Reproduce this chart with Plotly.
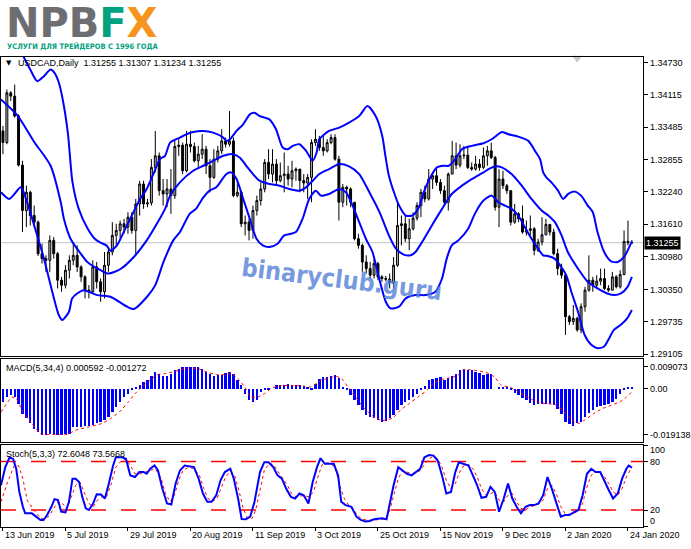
import plotly.graph_objects as go

# ---------------- data ----------------
opens = [1.33412, 1.33188, 1.34148, 1.34084, 1.33700, 1.32753, 1.31876, 1.32228, 1.31780, 1.31652,
         1.31044, 1.30948, 1.30916, 1.31300, 1.31044, 1.30532, 1.30436, 1.30724, 1.30916, 1.31012,
         1.30788, 1.30596, 1.30340, 1.30308, 1.30788, 1.30500, 1.30308, 1.30820, 1.31076, 1.31396,
         1.31492, 1.31620, 1.31556, 1.31748, 1.31492, 1.32004, 1.32388, 1.32004, 1.32023, 1.32708,
         1.32932, 1.32260, 1.32196, 1.32292, 1.32164, 1.33111, 1.33137, 1.32644, 1.33156, 1.33111,
         1.32836, 1.32964, 1.33060, 1.32740, 1.32516, 1.32868, 1.33028, 1.33220, 1.33156, 1.33220,
         1.32164, 1.32228, 1.31620, 1.31652, 1.31492, 1.31876, 1.32068, 1.32292, 1.32804, 1.32580,
         1.32772, 1.32452, 1.32548, 1.32580, 1.32484, 1.32644, 1.32676, 1.32452, 1.32407, 1.32516,
         1.33188, 1.33252, 1.33092, 1.33028, 1.33188, 1.33284, 1.32868, 1.32036, 1.32324, 1.32292,
         1.32036, 1.31332, 1.31204, 1.30884, 1.30756, 1.30628, 1.30852, 1.30596, 1.30564, 1.30551,
         1.30487, 1.30820, 1.31588, 1.31620, 1.31332, 1.31524, 1.31729, 1.31972, 1.32228, 1.32100,
         1.32484, 1.32548, 1.32420, 1.32260, 1.32036, 1.32580, 1.32932, 1.32753, 1.32932, 1.32945,
         1.32708, 1.32676, 1.32772, 1.32708, 1.32932, 1.33028, 1.32900, 1.31940, 1.32484, 1.32356,
         1.32260, 1.31652, 1.31812, 1.31716, 1.31460, 1.31492, 1.31524, 1.31108, 1.31268, 1.31409,
         1.31607, 1.31460, 1.31044, 1.30756, 1.30628, 1.29828, 1.29732, 1.29796, 1.29572, 1.30020,
         1.30340, 1.30532, 1.30436, 1.30513, 1.30564, 1.30372, 1.30340, 1.30596, 1.30404, 1.30641,
         1.31281, 1.31255]
highs = [1.33508, 1.34212, 1.34180, 1.34308, 1.33732, 1.32836, 1.32356, 1.32260, 1.31972, 1.31684,
         1.31236, 1.31012, 1.31396, 1.31364, 1.31076, 1.30596, 1.30820, 1.31012, 1.31236, 1.31204,
         1.30820, 1.30628, 1.30436, 1.30916, 1.30884, 1.30564, 1.31076, 1.31140, 1.31652, 1.31620,
         1.31684, 1.31716, 1.31844, 1.31844, 1.32100, 1.32452, 1.32452, 1.32100, 1.32868, 1.33412,
         1.32996, 1.32484, 1.32484, 1.32676, 1.33220, 1.33252, 1.33188, 1.33412, 1.33412, 1.33188,
         1.33124, 1.33348, 1.33124, 1.32868, 1.33060, 1.33124, 1.33444, 1.33284, 1.33796, 1.33284,
         1.32420, 1.32260, 1.31780, 1.31716, 1.31972, 1.32164, 1.32420, 1.32868, 1.33060, 1.33060,
         1.32868, 1.32804, 1.32996, 1.32740, 1.32836, 1.32708, 1.32676, 1.32580, 1.32580, 1.33252,
         1.33444, 1.33316, 1.33316, 1.33252, 1.33348, 1.33348, 1.32932, 1.32388, 1.32356, 1.32324,
         1.32036, 1.31428, 1.31236, 1.31012, 1.30884, 1.30948, 1.30884, 1.30628, 1.30615, 1.30660,
         1.30980, 1.32036, 1.31780, 1.31780, 1.31716, 1.31844, 1.32036, 1.32292, 1.32356, 1.32676,
         1.32580, 1.32676, 1.32484, 1.32356, 1.32612, 1.33220, 1.33188, 1.33156, 1.33124, 1.33124,
         1.32804, 1.32932, 1.32868, 1.33092, 1.33124, 1.33188, 1.32932, 1.32676, 1.32644, 1.32388,
         1.32260, 1.32004, 1.31844, 1.31972, 1.31684, 1.31780, 1.31556, 1.31332, 1.31748, 1.31716,
         1.31620, 1.31524, 1.31140, 1.30852, 1.30660, 1.29860, 1.30052, 1.29828, 1.30084, 1.30404,
         1.31012, 1.30596, 1.30628, 1.30756, 1.30756, 1.30436, 1.30692, 1.30628, 1.30724, 1.31492,
         1.31684, 1.31307]
lows = [1.32964, 1.33156, 1.33988, 1.33668, 1.32727, 1.31460, 1.31556, 1.31588, 1.31556, 1.30999,
        1.30852, 1.30692, 1.30692, 1.30948, 1.30372, 1.30308, 1.30372, 1.30564, 1.30820, 1.30692,
        1.30500, 1.30180, 1.30180, 1.30276, 1.30372, 1.30116, 1.30180, 1.30692, 1.31012, 1.31204,
        1.31332, 1.31428, 1.31428, 1.31428, 1.31012, 1.31780, 1.31908, 1.31940, 1.31972, 1.32612,
        1.32164, 1.31972, 1.31940, 1.31812, 1.32100, 1.32932, 1.32580, 1.32612, 1.32996, 1.32804,
        1.32676, 1.32868, 1.32580, 1.32228, 1.32484, 1.32804, 1.32964, 1.33092, 1.33111, 1.32132,
        1.32132, 1.31556, 1.31396, 1.31300, 1.31332, 1.31780, 1.31972, 1.32228, 1.32484, 1.32420,
        1.32356, 1.32420, 1.32228, 1.32356, 1.32324, 1.32452, 1.32228, 1.32228, 1.32100, 1.32036,
        1.33124, 1.33028, 1.32932, 1.32996, 1.33156, 1.32836, 1.31684, 1.31940, 1.31972, 1.31940,
        1.31300, 1.31140, 1.30692, 1.30660, 1.30564, 1.30564, 1.30532, 1.30500, 1.30513, 1.30372,
        1.30372, 1.30788, 1.31204, 1.31268, 1.31108, 1.31492, 1.31684, 1.31748, 1.32036, 1.32068,
        1.32292, 1.32356, 1.32196, 1.31972, 1.31876, 1.32580, 1.32676, 1.32708, 1.32868, 1.32676,
        1.32644, 1.32644, 1.32644, 1.32676, 1.32740, 1.32868, 1.31876, 1.31556, 1.32292, 1.32196,
        1.31588, 1.31620, 1.31652, 1.31428, 1.31396, 1.31396, 1.31012, 1.31076, 1.31204, 1.31396,
        1.31396, 1.31012, 1.30628, 1.30564, 1.29476, 1.29668, 1.29668, 1.29540, 1.29508, 1.29924,
        1.30308, 1.30308, 1.30372, 1.30436, 1.30340, 1.30308, 1.30340, 1.30372, 1.30372, 1.30628,
        1.31204, 1.31234]
closes = [1.33188, 1.34148, 1.34084, 1.33700, 1.32753, 1.31876, 1.32228, 1.31780, 1.31652, 1.31044,
          1.30948, 1.30916, 1.31300, 1.31044, 1.30532, 1.30436, 1.30724, 1.30916, 1.31012, 1.30788,
          1.30596, 1.30340, 1.30308, 1.30788, 1.30500, 1.30308, 1.30820, 1.31076, 1.31396, 1.31492,
          1.31620, 1.31556, 1.31748, 1.31492, 1.32004, 1.32388, 1.32004, 1.32023, 1.32708, 1.32932,
          1.32260, 1.32196, 1.32292, 1.32164, 1.33111, 1.33137, 1.32644, 1.33156, 1.33111, 1.32836,
          1.32964, 1.33060, 1.32740, 1.32516, 1.32868, 1.33028, 1.33220, 1.33156, 1.33220, 1.32164,
          1.32228, 1.31620, 1.31652, 1.31492, 1.31876, 1.32068, 1.32292, 1.32804, 1.32580, 1.32772,
          1.32452, 1.32548, 1.32580, 1.32484, 1.32644, 1.32676, 1.32452, 1.32407, 1.32516, 1.33188,
          1.33252, 1.33092, 1.33028, 1.33188, 1.33284, 1.32868, 1.32036, 1.32324, 1.32292, 1.32036,
          1.31332, 1.31204, 1.30884, 1.30756, 1.30628, 1.30852, 1.30596, 1.30564, 1.30551, 1.30487,
          1.30820, 1.31588, 1.31620, 1.31332, 1.31524, 1.31729, 1.31972, 1.32228, 1.32100, 1.32484,
          1.32548, 1.32420, 1.32260, 1.32036, 1.32580, 1.32932, 1.32753, 1.32932, 1.32945, 1.32708,
          1.32676, 1.32772, 1.32708, 1.32932, 1.33028, 1.32900, 1.31940, 1.32484, 1.32356, 1.32260,
          1.31652, 1.31812, 1.31716, 1.31460, 1.31492, 1.31524, 1.31108, 1.31268, 1.31409, 1.31607,
          1.31460, 1.31044, 1.30756, 1.30628, 1.29828, 1.29732, 1.29796, 1.29572, 1.30020, 1.30340,
          1.30532, 1.30436, 1.30513, 1.30564, 1.30372, 1.30340, 1.30596, 1.30404, 1.30641, 1.31281,
          1.31255, 1.31255]

# Bollinger bands
up_x = [0, 2, 4, 5, 7, 8.8, 10.5, 12.2, 13.2, 14.3, 15.3, 16.6, 17.8, 19.4, 21.7, 23.5, 25, 26.5, 27.5, 29.2,
        30.9, 33.4, 35.1, 36.8, 38.5, 40.2, 41.5, 42.8, 45.3, 47, 48.7, 51.3, 53.8, 56.4, 57.2, 58.1, 59.8, 61.5, 63.2, 64.4,
        65.7, 68.2, 69.9, 71.6, 72.9, 74.2, 75.9, 77.6, 79.3, 80.3, 81, 83.5, 86.1, 88.6, 91.2, 93.3, 95.4, 97.1, 97.9, 98.8,
        100.1, 101.4, 103.1, 104.8, 106.5, 107.7, 109.4, 111.1, 112.8, 114.1, 115.8, 117.5, 120, 123, 125.1, 126.8, 127.7, 129.4, 131.9, 134.5,
        136.2, 137.5, 138.3, 139.1, 140.4, 142.1, 143.4, 144.7, 146.3, 148, 149.7, 151, 152.2, 153.9, 155.7, 157.4, 159, 161]
up_y = [1.35492, 1.35268, 1.35012, 1.34884, 1.34596, 1.34372, 1.34468, 1.34596, 1.34532, 1.34346,
        1.34020, 1.33386, 1.32426, 1.31908, 1.31524, 1.31332, 1.31255, 1.31204, 1.31102, 1.31204,
        1.31460, 1.31844, 1.32100, 1.32292, 1.32580, 1.32868, 1.32932, 1.33188, 1.33284, 1.33348,
        1.33393, 1.33412, 1.33380, 1.33284, 1.33220, 1.33252, 1.33412, 1.33540, 1.33732, 1.33764,
        1.33700, 1.33636, 1.33444, 1.33092, 1.33060, 1.33124, 1.33156, 1.33028, 1.32836, 1.32996,
        1.33252, 1.33412, 1.33476, 1.33572, 1.33700, 1.33892, 1.33700, 1.33316, 1.32932, 1.32548,
        1.32228, 1.31972, 1.31780, 1.31780, 1.31940, 1.32228, 1.32516, 1.32708, 1.32740, 1.32740,
        1.32868, 1.33060, 1.33124, 1.33175, 1.33252, 1.33348, 1.33393, 1.33348, 1.33303, 1.33220,
        1.33028, 1.32868, 1.32612, 1.32516, 1.32420, 1.32260, 1.32100, 1.32196, 1.32241, 1.32164,
        1.31972, 1.31844, 1.31460, 1.31076, 1.30897, 1.30884, 1.30980, 1.31281]
mid_x = [-0.5, 3.7, 8, 12.2, 14.8, 15.6, 17.3, 19.9, 21.6, 25, 27, 30, 33.5, 36.8, 39.4, 41.5, 42.8, 45.3, 48.7, 51.3,
         53.8, 56.4, 58.9, 60.6, 62.3, 64, 65.7, 68.2, 70.8, 73.3, 75.9, 77.6, 79.3, 81, 83.5, 86.1, 88.6, 91.2, 93.8, 96.4,
         98.8, 100.6, 102.6, 104.4, 105.6, 107.3, 109.8, 112.4, 114.9, 117.5, 120, 123, 124.3, 126, 127.7, 130.2, 132.8, 135.3, 137.9, 139.6,
         141.3, 143, 144.6, 147.2, 149.7, 152.2, 154.7, 156.5, 158.2, 159.9, 161]
mid_y = [1.34020, 1.33713, 1.33200, 1.32740, 1.32036, 1.31716, 1.31332, 1.31044, 1.30884, 1.30724,
         1.30660, 1.30743, 1.30980, 1.31300, 1.31620, 1.31908, 1.32164, 1.32420, 1.32644, 1.32740,
         1.32836, 1.32932, 1.32964, 1.32900, 1.32740, 1.32580, 1.32452, 1.32388, 1.32356, 1.32292,
         1.32260, 1.32324, 1.32452, 1.32580, 1.32676, 1.32772, 1.32727, 1.32580, 1.32228, 1.31844,
         1.31396, 1.31140, 1.31025, 1.31012, 1.31076, 1.31268, 1.31588, 1.31908, 1.32196, 1.32356,
         1.32484, 1.32612, 1.32676, 1.32727, 1.32708, 1.32580, 1.32356, 1.32100, 1.31876, 1.31780,
         1.31652, 1.31396, 1.31076, 1.30756, 1.30500, 1.30372, 1.30276, 1.30244, 1.30276, 1.30404,
         1.30596]
lo_x = [-0.5, 1.6, 4.6, 5.9, 8, 10.5, 12.2, 14.3, 15.2, 16.9, 17.7, 19, 20.7, 24.1, 27.5, 31.8, 33.5, 36.9, 39, 41.1,
        43.6, 45.3, 47.8, 49.4, 51.3, 52.9, 54.6, 57.2, 58.4, 59.8, 61.5, 63.2, 64.9, 66.5, 68.2, 70.3, 72, 73.7, 75, 76.7,
        78.4, 80.1, 81.4, 83.5, 86.1, 87.8, 89.5, 91.2, 92.9, 94.6, 96.3, 98, 99.2, 101.4, 103.1, 105.6, 108.2, 110.7, 112.4, 113.6,
        114.9, 116.6, 119.1, 120.8, 123, 125.1, 126.8, 128.5, 130.2, 131.9, 133.6, 135.3, 137, 138.3, 139.5, 141.2, 142.9, 144.2, 145.5, 147.2,
        148.9, 150.6, 152.2, 153.9, 155.2, 156.4, 158.1, 159.8, 161]
lo_y = [1.32228, 1.32100, 1.32324, 1.32100, 1.31588, 1.30948, 1.30436, 1.29860, 1.29764, 1.29924,
        1.30180, 1.30276, 1.30340, 1.30244, 1.30212, 1.30020, 1.29975, 1.30212, 1.30436, 1.30884,
        1.31300, 1.31460, 1.31812, 1.31908, 1.32132, 1.32260, 1.32324, 1.32580, 1.32612, 1.32484,
        1.32100, 1.31716, 1.31332, 1.31204, 1.31172, 1.31236, 1.31396, 1.31428, 1.31460, 1.31716,
        1.32100, 1.32260, 1.32164, 1.32196, 1.32292, 1.32228, 1.31972, 1.31652, 1.31332, 1.31076,
        1.30564, 1.30116, 1.29988, 1.30020, 1.30180, 1.30244, 1.30244, 1.30308, 1.30564, 1.30948,
        1.31204, 1.31300, 1.31524, 1.31812, 1.32068, 1.32164, 1.32036, 1.31972, 1.31908, 1.31780,
        1.31556, 1.31332, 1.31140, 1.31012, 1.30999, 1.30948, 1.30788, 1.30628, 1.30308, 1.29924,
        1.29476, 1.29284, 1.29220, 1.29252, 1.29412, 1.29572, 1.29668, 1.29796, 1.29956]

# MACD(5,34,4) histogram and signal, in units of 1e-4
macd_hist_e4 = [-55, -35, -28, -35, -62, -104, -124, -145, -166, -180,
                -191, -191, -190, -190, -191, -191, -190, -187, -159, -159,
                -159, -156, -156, -152, -145, -138, -131, -118, -97, -76,
                -55, -35, -21, -7, 3, 14, 28, 35, 55, 69,
                62, 55, 55, 62, 76, 83, 90, 90, 91, 91,
                90, 83, 69, 62, 55, 59, 59, 65, 69, 62,
                35, 14, -21, -48, -55, -48, -14, -7, -4, 0,
                17, 14, 14, 18, 14, 17, 14, 11, 4, -7,
                21, 41, 48, 48, 51, 59, 46, 7, -4, -28,
                -48, -69, -90, -111, -118, -124, -131, -138, -134, -124,
                -111, -90, -69, -55, -48, -35, -24, -7, 10, 35,
                41, 46, 48, 37, 44, 51, 62, 79, 83, 79,
                76, 69, 65, 59, 62, 62, 0, 7, 7, 3,
                -4, -18, -28, -37, -48, -59, -69, -65, -62, -65,
                -62, -69, -83, -104, -138, -148, -156, -145, -138, -118,
                -101, -87, -76, -73, -69, -62, -55, -41, -21, -4,
                7, 5.92]
sig_x = [-0.5, 2.3, 3.4, 5.1, 7.4, 9.6, 11.9, 14.7, 16.4, 18.6, 22, 25.3, 27.6, 29.8, 32.1, 33.8, 35.5, 37.7, 39.4, 41.1,
         43.3, 45.6, 47.8, 50.1, 52.3, 54.6, 56.8, 58.5, 60.2, 61.9, 63.5, 65.2, 66.9, 68.6, 70.3, 73.7, 77, 78.7, 81.5, 83.8,
         85.5, 87.1, 88.3, 90, 92.2, 94.4, 96.7, 98.4, 100.1, 101.7, 104, 106.2, 108.5, 110.2, 111.9, 114.1, 116.4, 118, 119.7, 122,
         124.2, 125.9, 127.6, 129.8, 132.1, 134.3, 136.6, 138.8, 141.1, 143.3, 145.6, 147.3, 148.9, 151.2, 153.4, 155.7, 157.9, 159.6, 161]
sig_e4 = [-97, -35, -41, -97, -145, -187, -191, -191, -191, -173, -159, -145, -124, -97, -55, -21, 7, 35, 59, 62,
          69, 80, 87, 83, 69, 59, 59, 65, 41, 7, -35, -35, -21, 0, 11, 14, 11, 7, 35, 46,
          51, 35, 7, -28, -76, -111, -131, -131, -118, -90, -62, -35, -7, 21, 37, 44, 55, 79, 79, 73,
          65, 48, 14, 7, -14, -35, -55, -62, -65, -90, -131, -145, -131, -104, -83, -69, -55, -35, -12.72]

# Stochastic(5,3,3)
k_x = [-0.5, 0.6, 1.7, 2.6, 3.4, 4.2, 5.1, 5.7, 7.4, 8.5, 9.6, 10.4, 11.3, 12.4, 13.2, 14.1, 14.9, 16, 16.9, 17.8,
       18.6, 19.5, 20.3, 21.2, 22, 23.1, 24, 25.1, 26.1, 27, 28.2, 28.9, 30.4, 31.5, 32.6, 33.8, 34.9, 36, 36.8, 37.7,
       38.8, 39.7, 40.8, 42, 43.1, 44.2, 45.3, 46.5, 47.6, 48.9, 50.1, 51.2, 52.3, 53.4, 54.6, 55.7, 56.8, 58.2, 59.1, 60.2,
       61.1, 62.2, 63.3, 64.4, 65.8, 66.9, 68, 69.2, 70.3, 71.4, 72.5, 73.7, 74.8, 75.9, 77, 78.2, 79.3, 80.4, 81.3, 82.4,
       83.8, 84.7, 85.8, 86.6, 87.7, 89.2, 90.5, 91.6, 92.8, 93.9, 95, 96.1, 97, 98.2, 98.9, 100, 101.2, 102.3, 103.4, 104.6,
       105.7, 106.8, 107.9, 109.1, 110.2, 111.3, 112.4, 113.5, 114.7, 115.8, 116.7, 118, 119.2, 120.3, 121.4, 122.5, 123.7, 124.8, 125.9, 127,
       128.2, 129.3, 130.4, 131.5, 132.6, 133.8, 134.9, 136, 137.1, 138.3, 139.4, 140.5, 141.6, 142.8, 143.9, 145, 146.1, 147.3, 148.4, 149.5,
       150.6, 151.7, 152.9, 154, 155.1, 156.2, 157.4, 158.5, 159.6, 160.2, 161]
k_y = [50.7, 73.1, 85.3, 83.3, 71.1, 42.5, 24.1, 16, 16, 11.9,
       7.8, 7.8, 13.9, 24.1, 33.5, 32.3, 18, 17.2, 30.3, 58.8,
       58.8, 54.7, 36.4, 22.1, 20.1, 28.2, 39.6, 39.2, 34.3, 50.7,
       75.1, 85.3, 85.3, 83.3, 62.9, 60.9, 67, 67, 64.9, 71.1,
       75.1, 69, 46.6, 28.2, 27, 52.7, 69, 75.1, 74.3, 73.1,
       58.8, 40.5, 30.3, 30.3, 38.4, 56.8, 67, 71.1, 58.8, 34.3,
       9, 8.6, 11.9, 30.3, 67, 79.2, 79.2, 73.1, 62.9, 58.8,
       46.6, 36.4, 34.3, 40.5, 38.4, 28.2, 54.7, 73.1, 84.1, 77.2,
       77.2, 77.2, 62.9, 30.3, 26.2, 24.1, 11.9, 7.8, 5.8, 6.6,
       8.6, 9, 9.9, 8.6, 26.2, 50.7, 73.1, 69, 64.9, 62.9,
       67, 71.1, 85.3, 88.2, 87.4, 81.3, 62.9, 40.5, 42.5, 67,
       79.2, 77.2, 75.1, 62.9, 50.7, 35.2, 36.4, 48.6, 42.5, 18,
       34.3, 52.7, 34.3, 24.1, 16, 24.1, 26.2, 26.2, 28.2, 38.4,
       60.9, 46.6, 30.3, 11.9, 13.9, 13.9, 17.2, 20.1, 38.4, 64.9,
       71.1, 67, 67, 54.7, 44.5, 34.3, 40.5, 58.8, 71.1, 75.1,
       72.6]
d_x = [-0.5, 1.2, 2.9, 4, 5.1, 6.2, 7.9, 9.6, 10.7, 11.9, 13, 14.1, 15.2, 16.4, 17.5, 18.6, 19.7, 20.8, 22, 23.1,
       24.2, 25.3, 26.5, 27.6, 28.9, 30.4, 31.5, 32.6, 33.8, 35.2, 36.6, 37.9, 39, 40.5, 41.6, 42.8, 43.9, 45, 46.1, 47.6,
       48.9, 50.3, 51.4, 52.5, 53.7, 54.8, 55.9, 57, 58.2, 59.3, 60.4, 61.5, 62.6, 63.8, 64.7, 65.8, 66.9, 68.3, 69.4, 70.5,
       71.6, 72.8, 73.9, 75, 76.1, 77.3, 78.4, 79.5, 80.6, 81.7, 82.9, 84, 85.1, 86.2, 87.4, 88.5, 89.6, 90.7, 91.9, 93.3,
       94.8, 96.4, 97.8, 98.9, 100, 101.2, 102.3, 103.4, 104.6, 105.7, 106.8, 107.9, 109.1, 110.2, 111.3, 112.4, 113.5, 114.7, 115.8, 116.9,
       118, 119.2, 120.3, 121.4, 122.5, 123.7, 124.8, 125.9, 127, 128.2, 129.3, 130.4, 131.5, 132.6, 133.8, 134.9, 136, 137.1, 138.3, 139.4,
       140.5, 141.6, 142.8, 143.9, 145, 146.1, 147.3, 148.4, 149.5, 150.6, 151.7, 152.9, 154, 155.1, 156.2, 157.4, 158.5, 159.6, 161]
d_y = [30.3, 54.7, 75.1, 75.1, 58.8, 32.3, 20.1, 9.9, 9, 13.1,
       22.1, 30.3, 28.2, 22.1, 36.4, 50.7, 54.7, 42.5, 28.2, 24.1,
       32.3, 36.4, 36.4, 50.7, 73.1, 81.3, 83.3, 75.1, 64.9, 64.9,
       67, 69, 71.1, 58.8, 40.5, 30.3, 38.4, 56.8, 69, 73.1,
       71.1, 62.9, 46.6, 34.3, 31.1, 34.3, 46.6, 60.9, 67.8, 62.9,
       44.5, 22.1, 9.9, 9.9, 20.1, 46.6, 69, 78.4, 75.1, 67,
       59.6, 50.7, 40.5, 36.4, 37.6, 37.6, 36.4, 42.5, 60.9, 76,
       78.4, 77.2, 71.1, 50.7, 34.3, 26.2, 22.1, 13.9, 9, 7.4,
       7.4, 8.6, 9.4, 18, 38.4, 58.8, 69, 67, 64.9, 65.8,
       69, 76, 83.3, 86.6, 83.3, 73.1, 56.8, 46.6, 52.7, 67,
       75.1, 76.4, 71.1, 60.9, 46.6, 38.4, 40.5, 42.5, 32.3, 30.3,
       38.4, 40.5, 30.3, 22.1, 20.1, 24.1, 25.4, 27.4, 32.3, 46.6,
       50.7, 40.5, 24.1, 16, 14.8, 16, 18.8, 28.2, 48.6, 62.9,
       67.8, 67, 60.9, 52.7, 42.5, 38.4, 46.6, 60.9, 73.6]

price_ticks = [1.34730, 1.34115, 1.33485, 1.32855, 1.32240, 1.31610, 1.30980, 1.30350, 1.29735, 1.29105]
last_price = 1.31255
date_idx = [0, 16, 32, 48, 64, 80, 96, 112, 128, 144, 160]
date_labels = ["13 Jun 2019", "5 Jul 2019", "29 Jul 2019", "20 Aug 2019", "11 Sep 2019", "3 Oct 2019",
               "25 Oct 2019", "15 Nov 2019", "9 Dec 2019", "2 Jan 2020", "24 Jan 2020"]
macd_ticks = [0.009073, 0.0, -0.019138]
macd_ticktext = ["0.009073", "0.00", "-0.019138"]

# ---------------- figure ----------------
W, H = 691, 549
FONT = "Liberation Sans, Arial, sans-serif"
BLUE = "#0000ff"


def py(px):  # pixel row -> paper y
    return 1 - px / H


def n2(a, b):
    n = min(len(a), len(b))
    return a[:n], b[:n]


bar_x = list(range(len(closes)))
fig = go.Figure()

fig.add_trace(go.Candlestick(
    x=bar_x, open=opens, high=highs, low=lows, close=closes,
    increasing=dict(line=dict(color="black", width=1), fillcolor="#b4b4b4"),
    decreasing=dict(line=dict(color="black", width=1), fillcolor="black"),
    whiskerwidth=0, xaxis="x", yaxis="y", hoverinfo="skip"))

for bx, by in [(up_x, up_y), (mid_x, mid_y), (lo_x, lo_y)]:
    bx, by = n2(bx, by)
    fig.add_trace(go.Scatter(x=bx, y=by, mode="lines", xaxis="x", yaxis="y",
                             line=dict(color=BLUE, width=2, shape="spline", smoothing=0.7),
                             hoverinfo="skip"))

# shift marker at top
fig.add_trace(go.Scatter(x=[147], y=[1.3482], mode="markers", xaxis="x", yaxis="y",
                         marker=dict(symbol="triangle-down", size=9, color="#c8c8c8"),
                         cliponaxis=False, hoverinfo="skip"))

fig.add_trace(go.Bar(x=list(range(len(macd_hist_e4))), y=[v * 1e-4 for v in macd_hist_e4],
                     marker=dict(color=BLUE, line=dict(width=0)), width=0.6,
                     xaxis="x2", yaxis="y2", hoverinfo="skip"))
sx, sy = n2(sig_x, sig_e4)
fig.add_trace(go.Scatter(x=sx, y=[v * 1e-4 for v in sy], mode="lines", xaxis="x2", yaxis="y2",
                         line=dict(color="red", width=1, dash="dot", shape="spline", smoothing=0.5),
                         hoverinfo="skip"))

kx, ky = n2(k_x, k_y)
dx, dy = n2(d_x, d_y)
fig.add_trace(go.Scatter(x=dx, y=dy, mode="lines", xaxis="x3", yaxis="y3",
                         line=dict(color="red", width=1, dash="dot"), hoverinfo="skip"))
fig.add_trace(go.Scatter(x=kx, y=ky, mode="lines", xaxis="x3", yaxis="y3",
                         line=dict(color=BLUE, width=2), hoverinfo="skip"))

xr = [-0.5, 163.9]
xdom = [1 / W, 646 / W]
xcommon = dict(range=xr, domain=xdom, showgrid=False, zeroline=False, showline=True, mirror=True,
               linecolor="black", linewidth=1, showticklabels=False, fixedrange=True)
ycommon = dict(side="right", showgrid=False, zeroline=False, showline=True, mirror=True,
               linecolor="black", linewidth=1, ticks="outside", ticklen=4, tickcolor="black",
               tickfont=dict(family=FONT, size=9, color="black"), fixedrange=True)

fig.update_layout(
    width=W, height=H, margin=dict(l=0, r=0, t=0, b=0),
    paper_bgcolor="white", plot_bgcolor="white", showlegend=False, bargap=0,
    xaxis=dict(**xcommon, anchor="y", ticks="", rangeslider=dict(visible=False)),
    xaxis2=dict(**xcommon, anchor="y2", ticks=""),
    xaxis3=dict(**xcommon, anchor="y3", ticks="outside", ticklen=3, tickcolor="black", tickvals=date_idx),
    yaxis=dict(**ycommon, anchor="x", domain=[py(358), py(57)], range=[1.29068, 1.34845],
               tickvals=price_ticks, ticktext=[f"{v:.5f}" for v in price_ticks]),
    yaxis2=dict(**ycommon, anchor="x2", domain=[py(444), py(361)], range=[-0.02204, 0.01239],
                tickvals=macd_ticks, ticktext=macd_ticktext),
    yaxis3=dict(**ycommon, anchor="x3", domain=[py(530), py(447)], range=[-1, 101],
                tickvals=[0, 20, 80, 100], ticktext=["", "20", "80", ""]),
)

shapes = [
    dict(type="line", xref="x", yref="y", x0=xr[0], x1=xr[1], y0=last_price, y1=last_price,
         line=dict(color="#c0c0c0", width=1), layer="below"),
]
for lvl in (20, 80):
    shapes.append(dict(type="line", xref="x3 domain", yref="y3", x0=0, x1=1, y0=lvl, y1=lvl,
                       line=dict(color="red", width=1.5, dash="longdash"), layer="below"))
fig.update_layout(shapes=shapes)

ann = []
# logo
ann.append(dict(xref="paper", yref="paper", x=4 / W, y=py(23), xanchor="left", yanchor="middle",
                showarrow=False,
                text="<b><span style='color:#6d6e71'>NPB</span><span style='color:#00a27f'>F</span>"
                     "<span style='color:#f7941d'>X</span></b>",
                font=dict(family="DejaVu Sans, sans-serif", size=40)))
ann.append(dict(xref="paper", yref="paper", x=5 / W, y=py(47), xanchor="left", yanchor="middle",
                showarrow=False, text="<b>УСЛУГИ ДЛЯ ТРЕЙДЕРОВ С 1996 ГОДА</b>",
                font=dict(family="Liberation Sans Narrow, DejaVu Sans Condensed, sans-serif", size=7.5,
                          color="#00a27f")))
# panel titles
ann.append(dict(xref="paper", yref="paper", x=4 / W, y=py(63), xanchor="left", yanchor="middle",
                showarrow=False, text="▼", font=dict(family="DejaVu Sans", size=7, color="black")))
ann.append(dict(xref="paper", yref="paper", x=16 / W, y=py(63), xanchor="left", yanchor="middle",
                showarrow=False, text="USDCAD,Daily&nbsp;&nbsp;1.31255 1.31307 1.31234 1.31255",
                font=dict(family=FONT, size=9, color="black")))
ann.append(dict(xref="paper", yref="paper", x=4 / W, y=py(370), xanchor="left", yanchor="middle",
                showarrow=False, text="MACD(5,34,4) 0.000592 -0.001272",
                font=dict(family=FONT, size=9, color="black")))
ann.append(dict(xref="paper", yref="paper", x=4 / W, y=py(456), xanchor="left", yanchor="middle",
                showarrow=False, text="Stoch(5,3,3) 72.6048 73.5668",
                font=dict(family=FONT, size=9, color="black")))
# stochastic 100 / 0 labels
for txt, row in (("100", 452), ("0", 524)):
    ann.append(dict(xref="paper", yref="paper", x=651 / W, y=py(row), xanchor="left", yanchor="middle",
                    showarrow=False, text=txt, font=dict(family=FONT, size=9, color="black")))
# current price label
ann.append(dict(xref="paper", yref="y", x=647 / W, y=last_price, xanchor="left", yanchor="middle",
                showarrow=False, text=f"{last_price:.5f}", bgcolor="black", borderpad=1,
                font=dict(family=FONT, size=9, color="white")))
# date labels
for i, lab in zip(date_idx, date_labels):
    ann.append(dict(xref="x3", yref="paper", x=i, y=py(538), xanchor="left", yanchor="middle",
                    showarrow=False, text=lab, font=dict(family=FONT, size=9, color="black")))
# watermark
ann.append(dict(xref="paper", yref="paper", x=343 / W, y=py(281), xanchor="center", yanchor="middle",
                showarrow=False, text="<b>binaryclub.guru</b>", textangle=7,
                font=dict(family="Liberation Sans Narrow, DejaVu Sans Condensed, sans-serif", size=25,
                          color="rgba(80,125,215,0.8)")))
fig.update_layout(annotations=ann)

fig.write_html("out.html", config={"displayModeBar": False},
               post_script="document.body.style.margin='0';document.body.style.overflow='hidden';")
